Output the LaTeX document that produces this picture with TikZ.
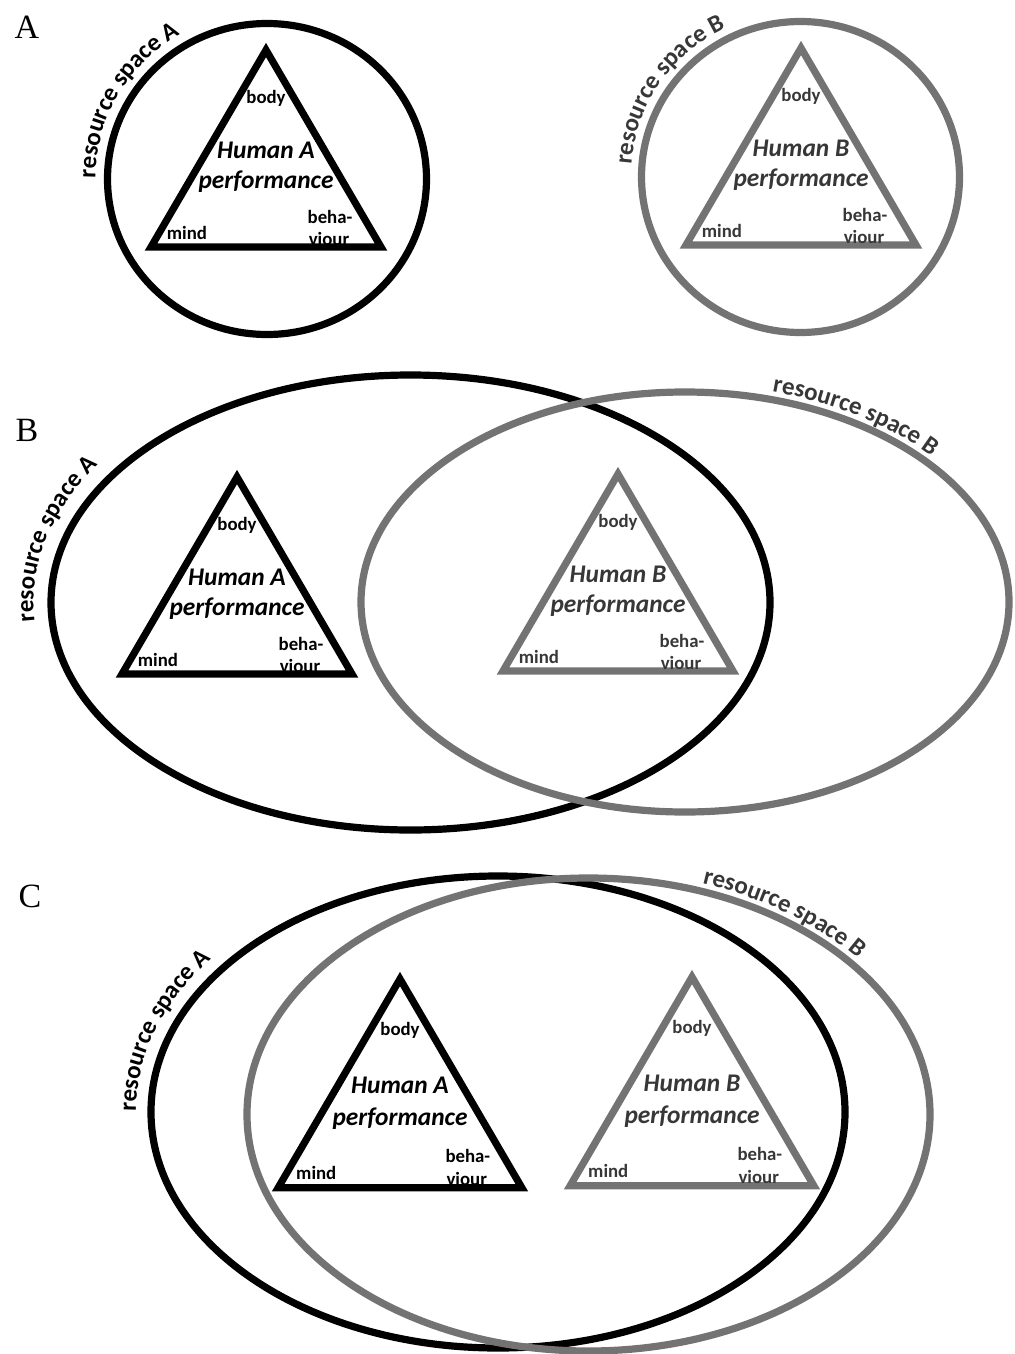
\documentclass[tikz,border=0pt]{standalone}
\usepackage{fontspec}
\setmainfont{Carlito}
\newfontfamily\panelfont{Liberation Serif}
\usepackage{tikz}
\usetikzlibrary{decorations.text}

\definecolor{lineB}{RGB}{115,115,115}
\definecolor{textB}{RGB}{55,55,55}
\newcommand{\rsfont}{\bfseries\fontsize{12.5}{14}\selectfont}

\begin{document}
\begin{tikzpicture}[x=0.5pt, y=-0.5pt, line join=miter,
  ring/.style={line width=3.6pt},
  small/.style={font=\bfseries\fontsize{9.4}{10}\selectfont, inner sep=0pt},
  big/.style={font=\bfseries\itshape\fontsize{12.7}{14}\selectfont, inner sep=0pt},
  panel/.style={font=\panelfont\fontsize{17}{20}\selectfont, inner sep=0pt},
  colB/.style={color=lineB, text=textB},
  pics/perf/.style={code={
    \draw[ring] (0,0) -- (-115,197) -- (115,197) -- cycle;
    \node[small] (-body) at (0,48) {body};
    \node[small] (-mind) at (-79,183) {mind};
    \node[small] (-beh) at (64,167) {beha-};
    \node[small] (-viour) at (63,189) {viour};
    \node[big] (-who) at (0,100) {Human #1};
    \node[big] (-perf) at (0,132) {performance};
  }}]
\useasboundingbox (0,0) rectangle (1014,1354);

% A: two separate spaces
\node[panel] (labA) at (27,27) {A};
\draw[ring] (267,179) ellipse [x radius=159.5, y radius=155.5];
\draw[ring, lineB] (800.5,177) ellipse [x radius=159, y radius=155.5];
\path[decorate, decoration={text along path, text align=center, text={|\rsfont|resource space A}}]
  (267,179) ++(-185:171.5 and 167.5) arc[start angle=-185, end angle=-115, x radius=171.5, y radius=167.5];
\path[decorate, decoration={text along path, text align=center, text={|\rsfont\color{textB}|resource space B}}]
  (800.5,177) ++(-181:169.5 and 166) arc[start angle=-181, end angle=-111, x radius=169.5, y radius=166];
\pic (aA) at (266,50) {perf=A};
\pic[colB] (aB) at (801,48) {perf=B};

% B: overlapping spaces
\node[panel] (labB) at (27,430) {B};
\draw[ring] (410.5,602.5) ellipse [x radius=359.5, y radius=227.5];
\draw[ring, lineB] (685,602) ellipse [x radius=324, y radius=210];
\path[decorate, decoration={text along path, text align=center, text={|\rsfont|resource space A}}]
  (410.5,602.5) ++(-194:377 and 245) arc[start angle=-194, end angle=-138, x radius=377, y radius=245];
\path[decorate, decoration={text along path, text align=center, text={|\rsfont\color{textB}|resource space B}}]
  (685,602) ++(-85:332 and 218) arc[start angle=-85, end angle=-29, x radius=332, y radius=218];
\pic (bA) at (237,477) {perf=A};
\pic[colB] (bB) at (618,474) {perf=B};

% C: largely shared space
\node[panel] (labC) at (30,896) {C};
\draw[ring] (498,1112) ellipse [x radius=347, y radius=236];
\draw[ring, lineB] (588.5,1114.5) ellipse [x radius=341.5, y radius=236.5];
\path[decorate, decoration={text along path, text align=center, text={|\rsfont|resource space A}}]
  (498,1112) ++(-190:362 and 251) arc[start angle=-190, end angle=-134, x radius=362, y radius=251];
\path[decorate, decoration={text along path, text align=center, text={|\rsfont\color{textB}|resource space B}}]
  (588.5,1114.5) ++(-82:349.5 and 244.5) arc[start angle=-82, end angle=-26, x radius=349.5, y radius=244.5];
\pic[scale=1.06] (cA) at (400,979) {perf=A};
\pic[colB, scale=1.06] (cB) at (692,977) {perf=B};
\end{tikzpicture}
\end{document}
